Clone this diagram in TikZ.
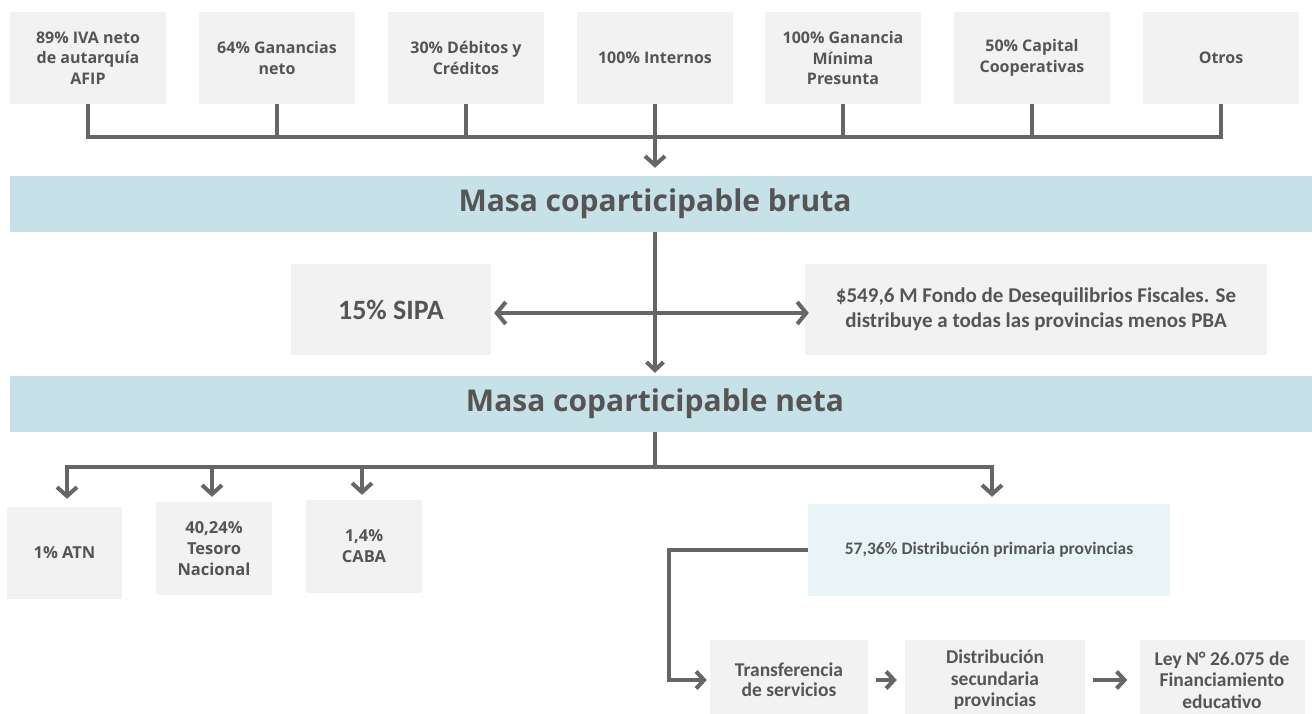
\documentclass[tikz,border=0pt]{standalone}
\usepackage{fontspec}
\setmainfont{Open Sans}
\newfontfamily\carl{Carlito}
\usetikzlibrary{arrows.meta}
\definecolor{boxgray}{HTML}{F2F2F2}
\definecolor{bandc}{HTML}{C6E1E7}
\definecolor{lightband}{HTML}{E9F4F6}
\definecolor{linec}{HTML}{666666}
\definecolor{txt}{HTML}{555555}
\begin{document}
\begin{tikzpicture}[x=1pt,y=-1pt,
  box/.style={fill=boxgray, inner sep=0pt, text=txt, align=center,
    font=\bfseries\fontsize{16}{20.5}\selectfont},
  cbox/.style={box, font=\carl\bfseries\fontsize{21}{25}\selectfont},
  bandbox/.style={fill=bandc, inner sep=0pt, text=txt, minimum width=1302pt, minimum height=56pt,
    font=\bfseries\fontsize{30}{34}\selectfont},
  conn/.style={draw=linec, line width=4pt},
  arr/.style={conn, -{Straight Barb[length=9pt,width=20pt]}},
  sarr/.style={conn, -{Straight Barb[length=8pt,width=17pt]}}
]
\useasboundingbox (0,0) rectangle (1312,713);
\fill[white] (0,0) rectangle (1312,713);

% top boxes
\node[box, minimum width=156pt, minimum height=92pt] (t1) at (88,58) {89\% IVA neto\\de autarquía\\AFIP};
\node[box, minimum width=156pt, minimum height=92pt] (t2) at (277,58) {64\% Ganancias\\neto};
\node[box, minimum width=156pt, minimum height=92pt] (t3) at (466,58) {30\% Débitos y\\Créditos};
\node[box, minimum width=156pt, minimum height=92pt] (t4) at (655,58) {100\% Internos};
\node[box, minimum width=156pt, minimum height=92pt] (t5) at (843,58) {100\% Ganancia\\Mínima\\Presunta};
\node[box, minimum width=156pt, minimum height=92pt] (t6) at (1032,58) {50\% Capital\\Cooperativas};
\node[box, minimum width=156pt, minimum height=92pt] (t7) at (1221,58) {Otros};

\coordinate (bus) at (655,137);
\draw[conn] (t1.south) -- (t1.south |- bus) -- (t7.south |- bus) -- (t7.south);
\foreach \n in {t2,t3,t4,t5,t6} \draw[conn] (\n.south) -- (\n.south |- bus);

% band 1
\node[bandbox] (b1) at (661,204) {\hspace*{-12pt}Masa coparticipable bruta};
\draw[arr, shorten >=8pt] (bus) -- (bus |- b1.north);

% band 2
\node[bandbox] (b2) at (661,404) {\hspace*{-12pt}Masa coparticipable neta};
\draw[sarr, shorten >=3pt] (b1.south -| bus) -- (b2.north -| bus);

% SIPA / Fondo
\node[box, minimum width=200pt, minimum height=91pt, font=\carl\bfseries\fontsize{28}{32}\selectfont] (sipa) at (391,309.5) {15\% SIPA};
\node[cbox, minimum width=462pt, minimum height=91pt] (fondo) at (1036,309.5) {\$549,6 M Fondo de Desequilibrios Fiscales. Se\\distribuye a todas las provincias menos PBA};
\draw[conn, {Straight Barb[length=9pt,width=22pt]}-{Straight Barb[length=9pt,width=22pt]}, shorten <=3pt, shorten >=-4pt] ([yshift=-3.5pt]sipa.east) -- ([yshift=-3.5pt]sipa.east -| fondo.west);

% lower boxes
\node[box, minimum width=115pt, minimum height=92pt, font=\bfseries\fontsize{16.5}{21}\selectfont] (atn) at (64.5,553) {1\% ATN};
\node[box, minimum width=116pt, minimum height=93pt, font=\bfseries\fontsize{16.5}{21}\selectfont] (tes) at (214,548.5) {40,24\%\\Tesoro\\Nacional};
\node[box, minimum width=116pt, minimum height=93pt, font=\bfseries\fontsize{16.5}{21}\selectfont] (caba) at (364,546.5) {1,4\%\\CABA};
\node[cbox, fill=lightband, minimum width=362pt, minimum height=92pt, font=\carl\bfseries\fontsize{17.5}{21}\selectfont] (dp) at (989,550) {57,36\% Distribución primaria provincias};

\coordinate (bus2) at (655,467);
\draw[conn] (b2.south -| bus2) -- (bus2);
\draw[arr, shorten >=8pt] (bus2) -| ([xshift=2.5pt]atn.north);
\draw[arr, shorten >=7pt] (bus2) -| ([xshift=3pt]dp.north);
\draw[arr, shorten >=5pt] ([xshift=-2pt]tes.north |- bus2) -- ([xshift=-2pt]tes.north);
\draw[arr, shorten >=5pt] ([xshift=-2pt]caba.north |- bus2) -- ([xshift=-2pt]caba.north);

% bottom row
\node[cbox, minimum width=158pt, minimum height=80pt, font=\carl\bfseries\fontsize{19.5}{20}\selectfont] (tr) at (789,680) {Transferencia\\de servicios};
\node[cbox, minimum width=180pt, minimum height=80pt, font=\carl\bfseries\fontsize{19.5}{21.5}\selectfont] (ds) at (995,680) {Distribución\\secundaria\\provincias};
\node[cbox, minimum width=165pt, minimum height=80pt, font=\carl\bfseries\fontsize{19.5}{21.5}\selectfont] (ley) at (1222,680) {Ley N° 26.075 de\\Financiamiento\\educativo};
\fill[boxgray] (tr.south west) rectangle ([yshift=-10pt]tr.south east);
\fill[boxgray] (ds.south west) rectangle ([yshift=-10pt]ds.south east);
\fill[boxgray] (ley.south west) rectangle ([yshift=-10pt]ley.south east);

\coordinate (corner) at (669,550);
\draw[sarr, shorten >=3pt] (dp.west) -- (corner) |- (tr.west);
\draw[sarr, shorten <=8pt, shorten >=8pt] (tr.east) -- (ds.west);
\draw[sarr, shorten <=8pt, shorten >=12pt] (ds.east) -- (ley.west);
\end{tikzpicture}
\end{document}
